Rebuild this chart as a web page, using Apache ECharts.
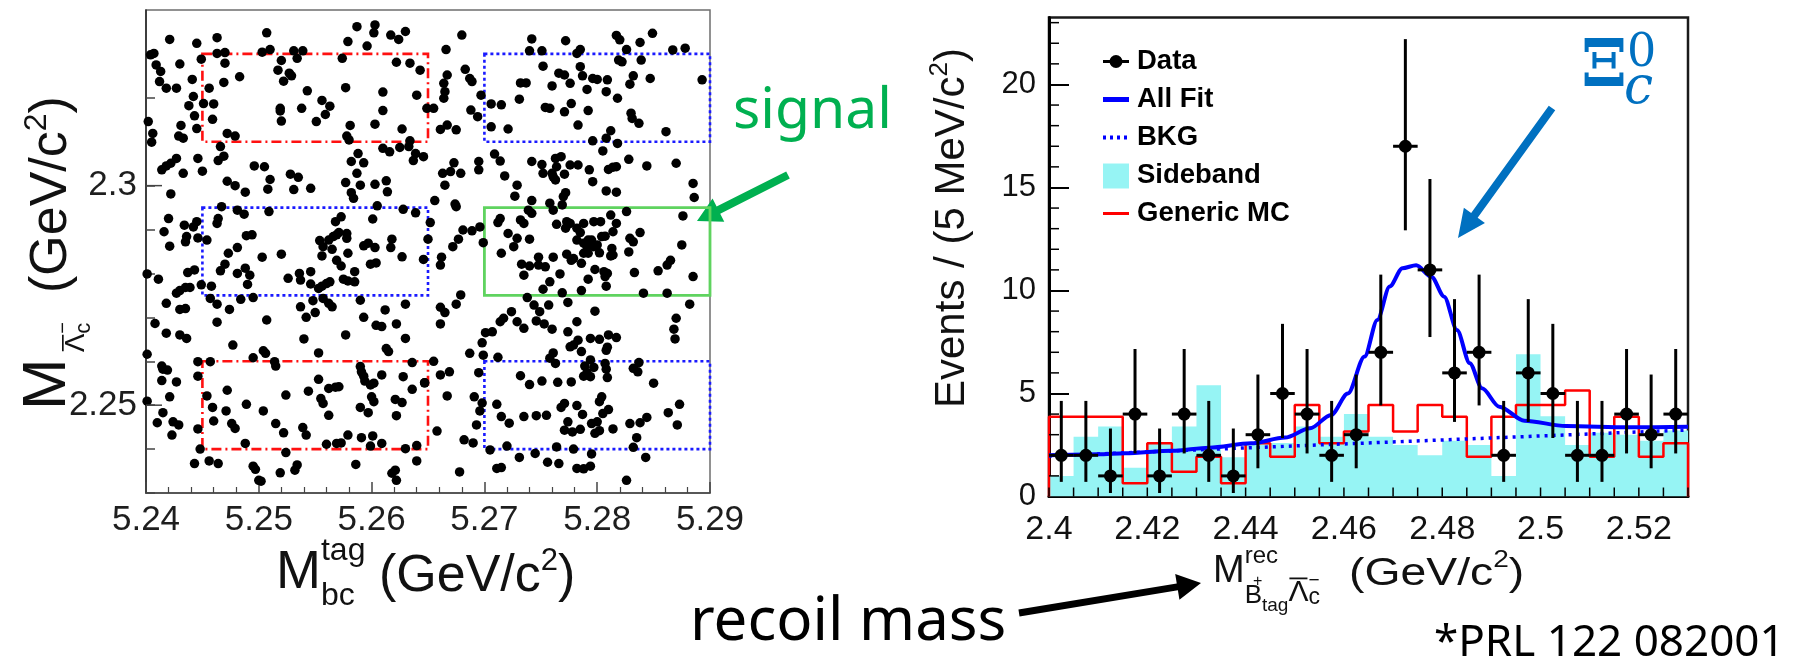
<!DOCTYPE html>
<html>
<head>
<meta charset="utf-8">
<script src="https://cdn.jsdelivr.net/npm/echarts@6/dist/echarts.min.js"></script>
<style>
  html, body { margin: 0; padding: 0; background: #ffffff; }
  #chart { width: 1802px; height: 665px; }
</style>
</head>
<body>
<div id="chart"></div>
<script>
// ---------------- Left panel: M(anti-Lambda_c) vs M_bc(tag) candidates ----------------
const candidates = [
[5.2421,2.3333],[5.2445,2.3324],[5.2463,2.3337],[5.2507,2.3348],[5.2587,2.3362],[5.2603,2.3366],[5.2602,2.3348],[5.2579,2.3328],[5.2596,2.3318],[5.2617,2.3343],[5.2624,2.3333],[5.2630,2.3351],[5.2407,2.3301],[5.2404,2.3298],[5.2463,2.3301],[5.2470,2.3303],[5.2503,2.3304],[5.2510,2.3310],[5.2531,2.3307],[5.2539,2.3307],[5.2534,2.3290],[5.2520,2.3285],[5.2449,2.3288],[5.2470,2.3279],[5.2430,2.3277],[5.2409,2.3275],[5.2413,2.3260],[5.2517,2.3263],[5.2527,2.3256],[5.2529,2.3250],[5.2522,2.3238],[5.2483,2.3248],[5.2441,2.3242],[5.2412,2.3237],[5.2469,2.3235],[5.2418,2.3222],[5.2427,2.3222],[5.2456,2.3222],[5.2574,2.3290],[5.2622,2.3281],[5.2634,2.3279],[5.2643,2.3263],[5.2543,2.3216],[5.2577,2.3223],[5.2610,2.3213],[5.2442,2.3203],[5.2556,2.3194],[5.2563,2.3181],[5.2559,2.3162],[5.2551,2.3146],[5.2519,2.3176],[5.2519,2.3170],[5.2520,2.3147],[5.2538,2.3176],[5.2438,2.3182],[5.2460,2.3186],[5.2451,2.3187],[5.2640,2.3206],[5.2610,2.3171],[5.2443,2.3159],[5.2459,2.3151],[5.2603,2.3140],[5.2402,2.3146],[5.2431,2.3137],[5.2581,2.3137],[5.2627,2.3129],[5.2406,2.3119],[5.2405,2.3099],[5.2445,2.3130],[5.2429,2.3113],[5.2433,2.3108],[5.2472,2.3119],[5.2479,2.3113],[5.2578,2.3113],[5.2580,2.3104],[5.2634,2.3102],[5.2466,2.3089],[5.2469,2.3067],[5.2464,2.3057],[5.2446,2.3062],[5.2427,2.3062],[5.2422,2.3051],[5.2418,2.3045],[5.2414,2.3036],[5.2433,2.3028],[5.2450,2.3033],[5.2496,2.3045],[5.2505,2.3043],[5.2510,2.3014],[5.2528,2.3026],[5.2535,2.3019],[5.2531,2.2991],[5.2546,2.2994],[5.2582,2.3055],[5.2588,2.3073],[5.2593,2.3052],[5.2587,2.3028],[5.2610,2.3085],[5.2616,2.3077],[5.2625,2.3087],[5.2633,2.3089],[5.2639,2.3073],[5.2637,2.3057],[5.2646,2.3066],[5.2472,2.3010],[5.2479,2.3000],[5.2488,2.2985],[5.2508,2.2992],[5.2577,2.3007],[5.2590,2.3001],[5.2582,2.2984],[5.2584,2.2971],[5.2603,2.3003],[5.2613,2.3011],[5.2614,2.2986],[5.2422,2.2981],[5.2467,2.2952],[5.2481,2.2944],[5.2487,2.2935],[5.2509,2.2941],[5.2605,2.2954],[5.2628,2.2946],[5.2639,2.2938],[5.2420,2.2925],[5.2434,2.2910],[5.2442,2.2906],[5.2445,2.2918],[5.2464,2.2925],[5.2463,2.2914],[5.2568,2.2918],[5.2573,2.2929],[5.2601,2.2924],[5.2416,2.2895],[5.2436,2.2884],[5.2435,2.2872],[5.2446,2.2881],[5.2454,2.2876],[5.2489,2.2886],[5.2494,2.2888],[5.2554,2.2875],[5.2557,2.2861],[5.2562,2.2876],[5.2566,2.2884],[5.2569,2.2888],[5.2571,2.2893],[5.2578,2.2891],[5.2578,2.2880],[5.2565,2.2855],[5.2593,2.2863],[5.2597,2.2869],[5.2603,2.2859],[5.2618,2.2878],[5.2617,2.2859],[5.2421,2.2862],[5.2481,2.2859],
[5.2680,2.3343],[5.2742,2.3334],[5.2772,2.3330],[5.2817,2.3342],[5.2820,2.3332],[5.2849,2.3347],[5.2838,2.3326],[5.2666,2.3310],[5.2740,2.3307],[5.2751,2.3307],[5.2785,2.3310],[5.2782,2.3301],[5.2826,2.3310],[5.2867,2.3309],[5.2878,2.3313],[5.2683,2.3265],[5.2687,2.3244],[5.2689,2.3237],[5.2667,2.3252],[5.2664,2.3233],[5.2665,2.3214],[5.2664,2.3199],[5.2819,2.3286],[5.2822,2.3282],[5.2839,2.3286],[5.2752,2.3272],[5.2785,2.3271],[5.2787,2.3250],[5.2766,2.3256],[5.2771,2.3252],[5.2732,2.3234],[5.2737,2.3234],[5.2760,2.3227],[5.2776,2.3233],[5.2796,2.3244],[5.2800,2.3242],[5.2809,2.3241],[5.2832,2.3250],[5.2829,2.3231],[5.2847,2.3244],[5.2893,2.3241],[5.2791,2.3219],[5.2808,2.3214],[5.2697,2.3206],[5.2706,2.3186],[5.2715,2.3184],[5.2731,2.3197],[5.2649,2.3176],[5.2655,2.3176],[5.2754,2.3178],[5.2758,2.3176],[5.2777,2.3187],[5.2771,2.3168],[5.2792,2.3171],[5.2818,2.3199],[5.2688,2.3172],[5.2694,2.3157],[5.2830,2.3165],[5.2831,2.3153],[5.2837,2.3142],[5.2667,2.3138],[5.2661,2.3128],[5.2675,2.3127],[5.2706,2.3134],[5.2721,2.3129],[5.2783,2.3138],[5.2812,2.3125],[5.2861,2.3123],[5.2796,2.3102],[5.2808,2.3108],[5.2805,2.3079],[5.2818,2.3096],[5.2709,2.3072],[5.2714,2.3056],[5.2763,2.3062],[5.2768,2.3066],[5.2742,2.3055],[5.2751,2.3048],[5.2695,2.3055],[5.2695,2.3036],[5.2673,2.3052],[5.2776,2.3047],[5.2783,2.3047],[5.2764,2.3043],[5.2760,2.3028],[5.2763,2.3013],[5.2761,2.3020],[5.2752,2.3028],[5.2771,2.3026],[5.2793,2.3036],[5.2810,2.3037],[5.2814,2.3042],[5.2817,2.3043],[5.2828,2.3060],[5.2844,2.3045],[5.2870,2.3051],[5.2670,2.3032],[5.2663,2.3028],[5.2679,2.3028],[5.2665,2.3001],[5.2718,2.3022],[5.2729,2.3001],[5.2796,2.3009],[5.2885,2.3005],[5.2886,2.2973],[5.2727,2.2976],[5.2742,2.2966],[5.2772,2.2984],[5.2770,2.2975],[5.2769,2.2956],[5.2808,2.2988],[5.2817,2.2985],[5.2656,2.2966],[5.2674,2.2958],[5.2675,2.2952],[5.2758,2.2960],[5.2761,2.2944],[5.2739,2.2944],[5.2742,2.2937],[5.2826,2.2941],[5.2876,2.2931],[5.2652,2.2916],[5.2714,2.2925],[5.2712,2.2916],[5.2732,2.2922],[5.2735,2.2914],[5.2764,2.2912],[5.2773,2.2918],[5.2776,2.2914],[5.2772,2.2903],[5.2782,2.2903],[5.2788,2.2914],[5.2785,2.2893],[5.2797,2.2918],[5.2803,2.2918],[5.2812,2.2933],[5.2817,2.2914],[5.2814,2.2895],[5.2681,2.2899],[5.2689,2.2897],[5.2696,2.2906],[5.2721,2.2891],[5.2729,2.2880],[5.2726,2.2861],[5.2740,2.2878],[5.2804,2.2884],[5.2807,2.2885],[5.2782,2.2876],[5.2788,2.2869],[5.2792,2.2876],[5.2795,2.2876],[5.2791,2.2861],[5.2797,2.2861],[5.2800,2.2865],[5.2829,2.2880],[5.2832,2.2872],[5.2838,2.2893],[5.2677,2.2878],[5.2672,2.2861],[5.2699,2.2870],[5.2650,2.2878],[5.2875,2.2865],[5.2813,2.2857],
[5.2473,2.2846],[5.2520,2.2844],[5.2503,2.2837],[5.2556,2.2840],[5.2569,2.2830],[5.2573,2.2817],[5.2579,2.2846],[5.2599,2.2821],[5.2604,2.2824],[5.2627,2.2838],[5.2646,2.2832],[5.2401,2.2799],[5.2411,2.2787],[5.2437,2.2802],[5.2443,2.2808],[5.2466,2.2806],[5.2470,2.2821],[5.2481,2.2800],[5.2488,2.2812],[5.2492,2.2796],[5.2490,2.2775],[5.2526,2.2789],[5.2536,2.2800],[5.2537,2.2785],[5.2546,2.2804],[5.2546,2.2776],[5.2556,2.2771],[5.2560,2.2777],[5.2563,2.2781],[5.2553,2.2766],[5.2575,2.2787],[5.2579,2.2783],[5.2585,2.2781],[5.2585,2.2804],[5.2430,2.2761],[5.2435,2.2768],[5.2439,2.2768],[5.2427,2.2755],[5.2449,2.2774],[5.2458,2.2771],[5.2457,2.2743],[5.2463,2.2730],[5.2484,2.2741],[5.2495,2.2745],[5.2537,2.2724],[5.2548,2.2738],[5.2557,2.2743],[5.2562,2.2732],[5.2565,2.2724],[5.2590,2.2739],[5.2630,2.2730],[5.2418,2.2732],[5.2430,2.2718],[5.2435,2.2720],[5.2474,2.2718],[5.2542,2.2700],[5.2550,2.2711],[5.2593,2.2700],[5.2612,2.2717],[5.2463,2.2689],[5.2507,2.2694],[5.2604,2.2682],[5.2609,2.2679],[5.2622,2.2685],[5.2408,2.2686],[5.2418,2.2664],[5.2430,2.2660],[5.2436,2.2652],[5.2540,2.2651],[5.2577,2.2660],[5.2630,2.2652],[5.2477,2.2637],[5.2613,2.2629],[5.2615,2.2622],[5.2401,2.2616],[5.2504,2.2624],[5.2506,2.2618],[5.2553,2.2619],[5.2495,2.2608],[5.2514,2.2599],[5.2515,2.2589],[5.2446,2.2599],[5.2457,2.2599],[5.2636,2.2597],[5.2414,2.2589],[5.2415,2.2582],[5.2419,2.2580],[5.2590,2.2588],[5.2591,2.2576],[5.2593,2.2566],[5.2594,2.2555],[5.2609,2.2569],[5.2628,2.2565],[5.2446,2.2566],[5.2414,2.2556],[5.2427,2.2553],[5.2553,2.2559],[5.2562,2.2538],[5.2568,2.2541],[5.2571,2.2542],[5.2599,2.2546],[5.2602,2.2550],[5.2647,2.2551],[5.2472,2.2534],[5.2544,2.2532],[5.2636,2.2536],[5.2421,2.2519],[5.2454,2.2521],[5.2524,2.2523],[5.2555,2.2515],[5.2557,2.2504],[5.2562,2.2477],[5.2600,2.2519],[5.2602,2.2508],[5.2621,2.2513],[5.2627,2.2506],[5.2401,2.2509],[5.2489,2.2502],[5.2459,2.2495],[5.2471,2.2487],[5.2504,2.2487],[5.2590,2.2495],[5.2597,2.2483],[5.2622,2.2476],[5.2415,2.2483],[5.2410,2.2460],[5.2424,2.2462],[5.2429,2.2455],[5.2460,2.2464],[5.2476,2.2458],[5.2479,2.2447],[5.2515,2.2458],[5.2522,2.2437],[5.2539,2.2449],[5.2542,2.2432],[5.2446,2.2446],[5.2423,2.2432],[5.2579,2.2432],[5.2591,2.2426],[5.2601,2.2430],[5.2599,2.2407],[5.2609,2.2413],[5.2560,2.2411],[5.2569,2.2413],[5.2573,2.2414],[5.2488,2.2413],[5.2630,2.2401],[5.2640,2.2408],[5.2448,2.2400],[5.2443,2.2367],[5.2456,2.2373],[5.2464,2.2367],[5.2524,2.2392],[5.2495,2.2361],[5.2497,2.2354],[5.2534,2.2364],[5.2532,2.2352],[5.2519,2.2346],[5.2586,2.2365],[5.2640,2.2373],[5.2500,2.2329],[5.2502,2.2327],[5.2618,2.2345],[5.2621,2.2352],[5.2622,2.2329],
[5.2715,2.2846],[5.2773,2.2844],[5.2779,2.2834],[5.2788,2.2846],[5.2792,2.2846],[5.2802,2.2847],[5.2814,2.2842],[5.2828,2.2849],[5.2748,2.2837],[5.2761,2.2837],[5.2662,2.2837],[5.2661,2.2819],[5.2733,2.2821],[5.2740,2.2817],[5.2748,2.2819],[5.2754,2.2815],[5.2777,2.2830],[5.2786,2.2823],[5.2798,2.2809],[5.2806,2.2804],[5.2809,2.2800],[5.2807,2.2793],[5.2812,2.2840],[5.2865,2.2830],[5.2862,2.2819],[5.2854,2.2806],[5.2833,2.2802],[5.2885,2.2793],[5.2735,2.2796],[5.2767,2.2799],[5.2792,2.2787],[5.2758,2.2781],[5.2752,2.2764],[5.2769,2.2756],[5.2786,2.2761],[5.2808,2.2771],[5.2841,2.2755],[5.2862,2.2755],[5.2738,2.2745],[5.2744,2.2728],[5.2749,2.2713],[5.2757,2.2728],[5.2774,2.2734],[5.2798,2.2714],[5.2882,2.2730],[5.2661,2.2723],[5.2665,2.2711],[5.2675,2.2730],[5.2679,2.2751],[5.2724,2.2713],[5.2729,2.2690],[5.2735,2.2675],[5.2717,2.2698],[5.2714,2.2690],[5.2746,2.2692],[5.2753,2.2685],[5.2760,2.2673],[5.2782,2.2690],[5.2701,2.2665],[5.2707,2.2667],[5.2698,2.2642],[5.2699,2.2614],[5.2774,2.2667],[5.2779,2.2637],[5.2776,2.2633],[5.2783,2.2648],[5.2786,2.2622],[5.2794,2.2652],[5.2802,2.2650],[5.2810,2.2660],[5.2817,2.2654],[5.2808,2.2625],[5.2809,2.2632],[5.2870,2.2698],[5.2868,2.2673],[5.2869,2.2651],[5.2661,2.2685],[5.2687,2.2618],[5.2712,2.2609],[5.2655,2.2600],[5.2761,2.2619],[5.2758,2.2607],[5.2763,2.2595],[5.2794,2.2603],[5.2789,2.2589],[5.2797,2.2586],[5.2791,2.2574],[5.2788,2.2566],[5.2794,2.2565],[5.2807,2.2595],[5.2808,2.2582],[5.2809,2.2563],[5.2837,2.2597],[5.2832,2.2584],[5.2836,2.2576],[5.2661,2.2569],[5.2669,2.2576],[5.2695,2.2574],[5.2732,2.2567],[5.2740,2.2547],[5.2751,2.2555],[5.2765,2.2552],[5.2777,2.2553],[5.2850,2.2550],[5.2647,2.2551],[5.2667,2.2521],[5.2691,2.2519],[5.2698,2.2505],[5.2696,2.2487],[5.2711,2.2502],[5.2771,2.2504],[5.2768,2.2495],[5.2782,2.2499],[5.2787,2.2479],[5.2804,2.2519],[5.2802,2.2508],[5.2810,2.2490],[5.2805,2.2481],[5.2873,2.2502],[5.2863,2.2483],[5.2871,2.2455],[5.2715,2.2474],[5.2722,2.2459],[5.2735,2.2474],[5.2746,2.2476],[5.2755,2.2477],[5.2774,2.2462],[5.2771,2.2443],[5.2778,2.2439],[5.2785,2.2445],[5.2795,2.2458],[5.2800,2.2462],[5.2798,2.2436],[5.2802,2.2442],[5.2814,2.2446],[5.2829,2.2458],[5.2838,2.2460],[5.2844,2.2472],[5.2693,2.2455],[5.2835,2.2426],[5.2832,2.2404],[5.2658,2.2441],[5.2682,2.2421],[5.2690,2.2414],[5.2705,2.2398],[5.2720,2.2407],[5.2731,2.2381],[5.2745,2.2390],[5.2764,2.2405],[5.2779,2.2400],[5.2795,2.2389],[5.2843,2.2381],[5.2711,2.2356],[5.2715,2.2358],[5.2756,2.2370],[5.2766,2.2367],[5.2782,2.2356],[5.2788,2.2355],[5.2794,2.2361],[5.2678,2.2348],[5.2826,2.2329]
];

// Selection boxes in (M_bc, M_Lambda_c): red = sideband, blue = sideband, green = signal
const boxMbc   = [[5.245, 5.265], [5.270, 5.290], [5.245, 5.265], [5.270, 5.290], [5.245, 5.265], [5.270, 5.290]];
const boxMlc   = [[2.310, 2.330], [2.310, 2.330], [2.275, 2.295], [2.275, 2.295], [2.240, 2.260], [2.240, 2.260]];
const boxKind  = ['red', 'blue', 'blue', 'signal', 'red', 'blue'];
const leftMajorY = [2.25, 2.30];

// ---------------- Right panel: recoil mass spectrum ----------------
const binEdges = [2.400,2.405,2.410,2.415,2.420,2.425,2.430,2.435,2.440,2.445,2.450,2.455,2.460,2.465,2.470,2.475,2.480,2.485,2.490,2.495,2.500,2.505,2.510,2.515,2.520,2.525,2.530];
const binCenters = [2.4025,2.4075,2.4125,2.4175,2.4225,2.4275,2.4325,2.4375,2.4425,2.4475,2.4525,2.4575,2.4625,2.4675,2.4725,2.4775,2.4825,2.4875,2.4925,2.4975,2.5025,2.5075,2.5125,2.5175,2.5225,2.5275];
const dataCounts  = [2, 2, 1, 4, 1, 4, 2, 1, 3, 5, 4, 2, 3, 7, 17, 11, 6, 7, 2, 6, 5, 2, 2, 4, 3, 4];
const dataErrLow  = [0.71,0.71,0.17,2.09,0.17,2.09,0.71,0.17,1.37,2.84,2.09,0.71,1.37,4.42,12.92,7.74,3.62,4.42,0.71,3.62,2.84,0.71,0.71,2.09,1.37,2.09];
const dataErrHigh = [4.64,4.64,3.30,7.16,3.30,7.16,4.64,3.30,5.92,8.38,7.16,4.64,5.92,10.77,22.20,15.41,9.58,10.77,4.64,9.58,8.38,4.64,4.64,7.16,5.92,7.16];
const sidebandHeights = [1.0, 2.9, 3.4, 1.4, 2.6, 3.4, 5.4, 1.9, 2.6, 2.6, 3.4, 2.9, 4.0, 2.9, 2.5, 2.0, 2.7, 2.5, 1.0, 6.9, 3.9, 2.5, 3.1, 3.0, 2.7, 3.2];
const genericMcHeights = [3.87, 3.87, 3.87, 0.64, 2.58, 1.20, 1.93, 0.64, 2.58, 1.93, 4.44, 2.58, 3.15, 4.44, 3.15, 4.44, 3.87, 1.93, 3.87, 4.44, 4.44, 5.14, 1.93, 3.87, 1.93, 2.58];
const fitX = [2.400, 2.410, 2.4155, 2.425, 2.4326, 2.4411, 2.448, 2.4531, 2.4574, 2.4608, 2.4642, 2.4668, 2.4693, 2.4719, 2.4747, 2.4778, 2.4804, 2.4830, 2.4856, 2.4881, 2.4916, 2.4967, 2.5052, 2.518, 2.530];
const fitY = [2.00, 2.05, 2.10, 2.22, 2.37, 2.58, 2.86, 3.31, 3.96, 5.00, 6.79, 8.57, 10.19, 11.08, 11.22, 10.67, 9.70, 8.08, 6.47, 5.25, 4.36, 3.68, 3.42, 3.36, 3.38];
const bkgX = [2.400, 2.530];
const bkgY = [1.97, 3.23];
// minor tick positions of the right panel (one per event on y, one per bin edge on x)
const rightMinorY = [1, 2, 3, 4, 6, 7, 8, 9, 11, 12, 13, 14, 16, 17, 18, 19, 21, 22, 23];

const FONT = '"Liberation Sans", Arial, Helvetica, sans-serif';
const SLIDE_FONT = '"Noto Sans", "Open Sans", sans-serif';
const SERIF = '"DejaVu Serif", "Liberation Serif", serif';
const CYAN = '#96f4f4';

// ---------- helpers for composed text (titles with sub/superscripts) ----------
const measureCtx = document.createElement('canvas').getContext('2d');
function textW(t, s, weight, style, family) {
  measureCtx.font = (style || 'normal') + ' ' + (weight || 'normal') + ' ' + s + 'px ' + (family || FONT);
  return measureCtx.measureText(t).width;
}
// parts: {t, s, b (baseline), x (absolute) | dx, weight, style, stay, sx (horizontal stretch)}
function composed(parts, color, family) {
  let cursor = 0;
  const out = [];
  parts.forEach(p => {
    const x = (p.x != null) ? p.x : cursor + (p.dx || 0);
    const sx = p.sx || 1;
    const wdt = textW(p.t, p.s, p.weight, p.style, p.family || family) * sx;
    if (!p.stay) cursor = x + wdt;
    out.push({
      type: 'text', x: x, y: p.b - 0.35 * p.s, scaleX: sx,
      style: {
        text: p.t, fontSize: p.s, fontFamily: p.family || family || FONT,
        fontWeight: p.weight || 'normal', fontStyle: p.style || 'normal',
        fill: p.color || color, align: 'left', verticalAlign: 'middle',
        textAlign: 'left', textVerticalAlign: 'middle'
      }
    });
    if (p.bar) {
      const yb = p.b - 0.72 * p.s - p.bar;
      out.push({ type: 'line', shape: { x1: x + 1, y1: yb, x2: x + wdt - 1, y2: yb },
                 style: { stroke: p.color || color, lineWidth: Math.max(1.2, p.s * 0.06) } });
    }
  });
  return out;
}
function arrow(tail, tip, shaft, headLen, headW, color) {
  const dx = tip[0] - tail[0], dy = tip[1] - tail[1];
  const L = Math.hypot(dx, dy), ux = dx / L, uy = dy / L, nx = -uy, ny = ux;
  const bx = tip[0] - ux * headLen, by = tip[1] - uy * headLen;
  const pts = [
    [tail[0] + nx * shaft / 2, tail[1] + ny * shaft / 2],
    [bx + nx * shaft / 2, by + ny * shaft / 2],
    [bx + nx * headW / 2, by + ny * headW / 2],
    [tip[0], tip[1]],
    [bx - nx * headW / 2, by - ny * headW / 2],
    [bx - nx * shaft / 2, by - ny * shaft / 2],
    [tail[0] - nx * shaft / 2, tail[1] - ny * shaft / 2]
  ];
  return { type: 'polygon', shape: { points: pts }, style: { fill: color } };
}

// ---------- box styles ----------
const boxStyle = {
  red:    { borderColor: '#ff1010', borderWidth: 2.6, borderType: [10, 4, 2, 4] },
  blue:   { borderColor: '#1a1aff', borderWidth: 2.6, borderType: [3, 3] },
  signal: { borderColor: '#5fd35f', borderWidth: 2.8, borderType: 'solid' }
};
const boxAreas = boxMbc.map((bx, i) => [
  { coord: [bx[0], boxMlc[i][1]], itemStyle: Object.assign({ color: 'rgba(0,0,0,0)' }, boxStyle[boxKind[i]]) },
  { coord: [bx[1], boxMlc[i][0]] }
]);

// ---------- histogram helpers ----------
function stepData(heights, closed) {
  const d = heights.map((h, i) => [binEdges[i], h]);
  d.push([binEdges[binEdges.length - 1], heights[heights.length - 1]]);
  if (closed) { d.unshift([binEdges[0], 0]); d.push([binEdges[binEdges.length - 1], 0]); }
  return d;
}

const chart = echarts.init(document.getElementById('chart'), null, { renderer: 'canvas' });

const legendRows = [61.5, 99.5, 137.5, 175.5, 213.5];
const legendText = ['Data', 'All Fit', 'BKG', 'Sideband', 'Generic MC'];

const graphics = [];
// legend (right panel)
graphics.push({ type: 'line', shape: { x1: 1103, y1: legendRows[0], x2: 1129, y2: legendRows[0] }, style: { stroke: '#000', lineWidth: 3 } });
graphics.push({ type: 'circle', shape: { cx: 1116, cy: legendRows[0], r: 6.5 }, style: { fill: '#000' } });
graphics.push({ type: 'line', shape: { x1: 1103, y1: legendRows[1], x2: 1129, y2: legendRows[1] }, style: { stroke: '#0000ff', lineWidth: 5 } });
graphics.push({ type: 'line', shape: { x1: 1103, y1: legendRows[2], x2: 1129, y2: legendRows[2] }, style: { stroke: '#0000ff', lineWidth: 4, lineDash: [3, 4] } });
graphics.push({ type: 'rect', shape: { x: 1103, y: legendRows[3] - 12, width: 26, height: 25 }, style: { fill: CYAN } });
graphics.push({ type: 'line', shape: { x1: 1103, y1: legendRows[4], x2: 1129, y2: legendRows[4] }, style: { stroke: '#ff0000', lineWidth: 3 } });
legendText.forEach((t, i) => {
  graphics.push({ type: 'text', x: 1137, y: legendRows[i],
    style: { text: t, fontSize: 27.5, fontWeight: 'bold', fontFamily: FONT, fill: '#000',
             align: 'left', verticalAlign: 'middle', textAlign: 'left', textVerticalAlign: 'middle' } });
});

// left x-axis title: M_bc^tag (GeV/c^2)
graphics.push({ type: 'group', x: 276, y: 0, children: composed([
  { t: 'M', s: 54, b: 592 },
  { t: 'tag', s: 32, b: 562, stay: true },
  { t: 'bc', s: 32, b: 607 },
  { t: '(GeV/c', s: 52, b: 595, x: 103 },
  { t: '2', s: 31, b: 572 },
  { t: ')', s: 52, b: 595 }
], '#111', FONT) });

// left y-axis title: M_{anti-Lambda_c^-} (GeV/c^2), rotated
graphics.push({ type: 'group', x: 70, y: 410, rotation: Math.PI / 2, children: composed([
  { t: 'M', s: 62, b: 0 },
  { t: 'Λ', s: 28, b: 16, dx: 6, bar: 3 },
  { t: 'c', s: 22, b: 22, stay: true },
  { t: '−', s: 20, b: 0 },
  { t: '(GeV/c', s: 52, b: 0, x: 117 },
  { t: '2', s: 32, b: -22 },
  { t: ')', s: 52, b: 0 }
], '#111', FONT) });

// right x-axis title: M^rec_{B+tag anti-Lambda_c^-} (GeV/c^2)
graphics.push({ type: 'group', x: 1213, y: 0, children: composed([
  { t: 'M', s: 38, b: 585 },
  { t: 'rec', s: 24, b: 565, stay: true },
  { t: 'B', s: 26, b: 605 },
  { t: '+', s: 16, b: 587, dx: -9, stay: true },
  { t: 'tag', s: 19, b: 612 },
  { t: 'Λ', s: 30, b: 603, bar: 3 },
  { t: '−', s: 19, b: 587, stay: true },
  { t: 'c', s: 23, b: 606 },
  { t: '(GeV/c', s: 38, b: 588, x: 136, sx: 1.22 },
  { t: '2', s: 23, b: 569, sx: 1.22 },
  { t: ')', s: 38, b: 588, sx: 1.22 }
], '#111', FONT) });

// right y-axis title: Events / (5 MeV/c^2), rotated
graphics.push({ type: 'group', x: 967, y: 408, rotation: Math.PI / 2, children: composed([
  { t: 'Events / (5 MeV/c', s: 42, b: 0 },
  { t: '2', s: 26, b: -18 },
  { t: ')', s: 42, b: 0 }
], '#111', FONT) });

// annotations
graphics.push({ type: 'text', x: 733, y: 132 - 0.35 * 57,
  style: { text: 'signal', fontSize: 57, fontFamily: SLIDE_FONT, fill: '#00b050', align: 'left', verticalAlign: 'middle', textAlign: 'left', textVerticalAlign: 'middle' } });
graphics.push(arrow([788, 175], [697, 221], 8, 24, 26, '#00b050'));
graphics.push(arrow([1552, 108], [1458, 238], 8, 28, 26, '#0070c0'));
graphics.push(arrow([1019, 613], [1201, 583], 7, 24, 26, '#000000'));
graphics.push({ type: 'text', x: 690, y: 644 - 0.35 * 60,
  style: { text: 'recoil mass', fontSize: 60, fontFamily: SLIDE_FONT, fill: '#000', align: 'left', verticalAlign: 'middle', textAlign: 'left', textVerticalAlign: 'middle' } });
graphics.push({ type: 'text', x: 1434, y: 659 - 0.35 * 44,
  style: { text: '*PRL 122 082001', fontSize: 44, fontFamily: SLIDE_FONT, fill: '#000', align: 'left', verticalAlign: 'middle', textAlign: 'left', textVerticalAlign: 'middle' } });
// Xi_c^0 label
graphics.push({ type: 'group', x: 0, y: 0, children: composed([
  { t: 'Ξ', s: 66, b: 92, x: 1581, weight: 'bold' },
  { t: '0', s: 46, b: 70, x: 1627 },
  { t: 'c', s: 52, b: 108, x: 1624, style: 'italic' }
], '#0070c0', SERIF) });

const tickLine = (x1, y1, x2, y2) => ({ type: 'line', shape: { x1, y1, x2, y2 }, style: { stroke: '#000', lineWidth: 1.5 } });

const option = {
  animation: false,
  backgroundColor: '#ffffff',
  grid: [
    { left: 146, top: 10, width: 564, height: 483, show: true, borderColor: '#6e6e6e', borderWidth: 1.5, backgroundColor: 'rgba(0,0,0,0)' },
    { left: 1049, top: 17.5, width: 639, height: 479, show: true, borderColor: '#1a1a1a', borderWidth: 2.5, backgroundColor: 'rgba(0,0,0,0)' }
  ],
  xAxis: [
    { gridIndex: 0, type: 'value', min: 5.24, max: 5.29, interval: 0.01,
      axisLine: { onZero: false, lineStyle: { color: '#444', width: 1.5 } },
      axisTick: { inside: true, length: 11, lineStyle: { color: '#444', width: 1.5 } },
      minorTick: { show: true, splitNumber: 5, length: 6, lineStyle: { color: '#444', width: 1.2 } },
      splitLine: { show: false }, minorSplitLine: { show: false },
      axisLabel: { fontSize: 35, fontFamily: FONT, color: '#1e1e1e', margin: 10, formatter: v => v.toFixed(2) } },
    { gridIndex: 1, type: 'value', min: 2.40, max: 2.53, interval: 0.02,
      axisLine: { onZero: false, lineStyle: { color: '#000', width: 3 } },
      axisTick: { inside: true, length: 18, lineStyle: { color: '#000', width: 2 } },
      minorTick: { show: false },
      splitLine: { show: false },
      axisLabel: { fontSize: 34, fontFamily: FONT, color: '#111', margin: 16, showMaxLabel: false,
                   formatter: v => String(parseFloat(v.toFixed(2))) } }
  ],
  yAxis: [
    { gridIndex: 0, type: 'value', min: 2.23, max: 2.34, interval: 0.01,
      axisLine: { onZero: false, lineStyle: { color: '#222', width: 1.5 } },
      axisTick: { inside: true, length: 9, lineStyle: { color: '#444', width: 1.5 } },
      splitLine: { show: false },
      axisLabel: { fontSize: 35, fontFamily: FONT, color: '#1e1e1e', margin: 9, showMaxLabel: false,
                   formatter: v => (Math.abs(v - 2.25) < 1e-6 ? '2.25' : (Math.abs(v - 2.3) < 1e-6 ? '2.3' : '')) } },
    { gridIndex: 1, type: 'value', min: 0, max: 23.25, interval: 5,
      axisLine: { onZero: false, lineStyle: { color: '#000', width: 3 } },
      axisTick: { inside: true, length: 20, lineStyle: { color: '#000', width: 2 } },
      minorTick: { show: false },
      splitLine: { show: false },
      axisLabel: { fontSize: 31, fontFamily: FONT, color: '#111', margin: 13, showMaxLabel: false } }
  ],
  series: [
    { name: 'candidates', type: 'scatter', xAxisIndex: 0, yAxisIndex: 0, data: candidates,
      symbol: 'circle', symbolSize: 9.5, itemStyle: { color: '#000', opacity: 1 }, z: 3,
      markArea: { silent: true, data: boxAreas, label: { show: false } } },
    { name: 'leftMajorTicks', type: 'custom', xAxisIndex: 0, yAxisIndex: 0,
      data: leftMajorY.map(v => [5.24, v]), z: 4,
      renderItem: (params, api) => {
        const p = api.coord([api.value(0), api.value(1)]);
        return { type: 'line', shape: { x1: p[0], y1: p[1], x2: p[0] + 16, y2: p[1] }, style: { stroke: '#444', lineWidth: 1.5 } };
      } },
    { name: 'rightMinorX', type: 'custom', xAxisIndex: 1, yAxisIndex: 1, z: 8, clip: false,
      data: binEdges.map(e => [e, 0]),
      renderItem: (params, api) => {
        const p = api.coord([api.value(0), 0]);
        return tickLine(p[0], p[1], p[0], p[1] - 9);
      } },
    { name: 'rightMinorY', type: 'custom', xAxisIndex: 1, yAxisIndex: 1, z: 8, clip: false,
      data: rightMinorY.map(v => [2.40, v]),
      renderItem: (params, api) => {
        const p = api.coord([2.40, api.value(1)]);
        return tickLine(p[0], p[1], p[0] + 10, p[1]);
      } },
    { name: 'Sideband', type: 'line', xAxisIndex: 1, yAxisIndex: 1, step: 'end',
      data: stepData(sidebandHeights, false), showSymbol: false, symbol: 'none',
      lineStyle: { width: 0, color: CYAN }, areaStyle: { color: CYAN, opacity: 1 }, z: 2 },
    { name: 'Generic MC', type: 'line', xAxisIndex: 1, yAxisIndex: 1, step: 'end',
      data: stepData(genericMcHeights, true), showSymbol: false, symbol: 'none',
      lineStyle: { width: 2.5, color: '#ff0000' }, z: 3 },
    { name: 'BKG', type: 'line', xAxisIndex: 1, yAxisIndex: 1,
      data: bkgX.map((x, i) => [x, bkgY[i]]), showSymbol: false, symbol: 'none',
      lineStyle: { width: 3.5, color: '#0000ff', type: [3, 5] }, z: 4 },
    { name: 'All Fit', type: 'line', xAxisIndex: 1, yAxisIndex: 1,
      data: fitX.map((x, i) => [x, fitY[i]]), showSymbol: false, symbol: 'none',
      smooth: 0.3, smoothMonotone: 'x',
      lineStyle: { width: 4, color: '#0000ff' }, z: 5 },
    { name: 'DataErrors', type: 'custom', xAxisIndex: 1, yAxisIndex: 1, z: 6,
      data: binCenters.map((c, i) => [c, dataCounts[i], dataErrLow[i], dataErrHigh[i], binEdges[i], binEdges[i + 1]]),
      encode: { x: 0, y: 1 },
      renderItem: (params, api) => {
        const c = api.value(0), n = api.value(1);
        const top = api.coord([c, api.value(3)]), bot = api.coord([c, api.value(2)]);
        const l = api.coord([api.value(4), n]), r = api.coord([api.value(5), n]);
        return { type: 'group', children: [
          { type: 'line', shape: { x1: top[0], y1: top[1], x2: bot[0], y2: bot[1] }, style: { stroke: '#000', lineWidth: 3 } },
          { type: 'line', shape: { x1: l[0], y1: l[1], x2: r[0], y2: r[1] }, style: { stroke: '#000', lineWidth: 3 } }
        ] };
      } },
    { name: 'Data', type: 'scatter', xAxisIndex: 1, yAxisIndex: 1, z: 7,
      data: binCenters.map((c, i) => [c, dataCounts[i]]),
      symbol: 'circle', symbolSize: 13, itemStyle: { color: '#000', opacity: 1 } }
  ],
  graphic: { elements: graphics }
};
chart.setOption(option);
</script>
</body>
</html>
